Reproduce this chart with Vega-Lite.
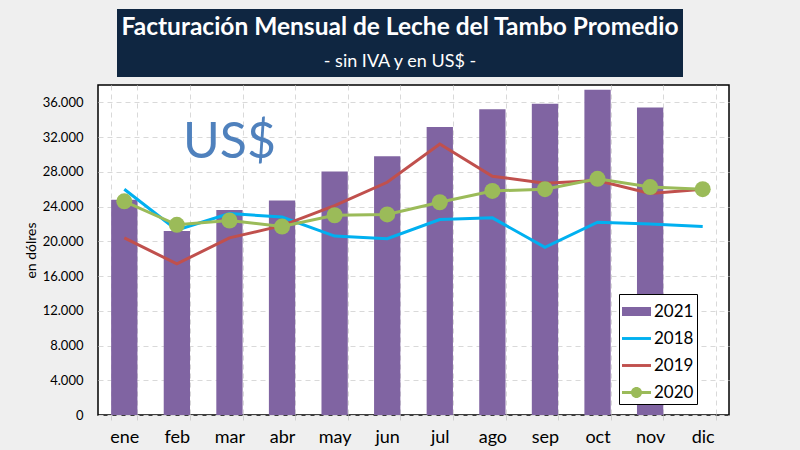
{
  "$schema": "https://vega.github.io/schema/vega-lite/v6.json",
  "background": "#efefef",
  "padding": {"left": 23, "top": 9, "right": 73, "bottom": 4},
  "config": {"font": "Lato", "view": {"stroke": null}},
  "datasets": {
    "titulos": [
      {"linea": "titulo", "texto": "Facturación Mensual de Leche del Tambo Promedio"},
      {"linea": "subtitulo", "texto": "- sin IVA y en US$ -"}
    ],
    "barras": [
      {"mes": "ene", "serie": "2021", "valor": 24800},
      {"mes": "feb", "serie": "2021", "valor": 21200},
      {"mes": "mar", "serie": "2021", "valor": 23600},
      {"mes": "abr", "serie": "2021", "valor": 24700},
      {"mes": "may", "serie": "2021", "valor": 28050},
      {"mes": "jun", "serie": "2021", "valor": 29800},
      {"mes": "jul", "serie": "2021", "valor": 33150},
      {"mes": "ago", "serie": "2021", "valor": 35200},
      {"mes": "sep", "serie": "2021", "valor": 35850},
      {"mes": "oct", "serie": "2021", "valor": 37450},
      {"mes": "nov", "serie": "2021", "valor": 35400}
    ],
    "lineas": [
      {"mes": "ene", "serie": "2018", "valor": 26000},
      {"mes": "feb", "serie": "2018", "valor": 21300},
      {"mes": "mar", "serie": "2018", "valor": 23200},
      {"mes": "abr", "serie": "2018", "valor": 22800},
      {"mes": "may", "serie": "2018", "valor": 20600},
      {"mes": "jun", "serie": "2018", "valor": 20300},
      {"mes": "jul", "serie": "2018", "valor": 22500},
      {"mes": "ago", "serie": "2018", "valor": 22700},
      {"mes": "sep", "serie": "2018", "valor": 19300},
      {"mes": "oct", "serie": "2018", "valor": 22200},
      {"mes": "nov", "serie": "2018", "valor": 22000},
      {"mes": "dic", "serie": "2018", "valor": 21700},
      {"mes": "ene", "serie": "2019", "valor": 20400},
      {"mes": "feb", "serie": "2019", "valor": 17400},
      {"mes": "mar", "serie": "2019", "valor": 20400},
      {"mes": "abr", "serie": "2019", "valor": 21800},
      {"mes": "may", "serie": "2019", "valor": 24100},
      {"mes": "jun", "serie": "2019", "valor": 26800},
      {"mes": "jul", "serie": "2019", "valor": 31200},
      {"mes": "ago", "serie": "2019", "valor": 27500},
      {"mes": "sep", "serie": "2019", "valor": 26700},
      {"mes": "oct", "serie": "2019", "valor": 27000},
      {"mes": "nov", "serie": "2019", "valor": 25500},
      {"mes": "dic", "serie": "2019", "valor": 26000},
      {"mes": "ene", "serie": "2020", "valor": 24600},
      {"mes": "feb", "serie": "2020", "valor": 21900},
      {"mes": "mar", "serie": "2020", "valor": 22400},
      {"mes": "abr", "serie": "2020", "valor": 21700},
      {"mes": "may", "serie": "2020", "valor": 23000},
      {"mes": "jun", "serie": "2020", "valor": 23100},
      {"mes": "jul", "serie": "2020", "valor": 24500},
      {"mes": "ago", "serie": "2020", "valor": 25800},
      {"mes": "sep", "serie": "2020", "valor": 26000},
      {"mes": "oct", "serie": "2020", "valor": 27200},
      {"mes": "nov", "serie": "2020", "valor": 26250},
      {"mes": "dic", "serie": "2020", "valor": 26000}
    ],
    "anot": [
      {"mes": "mar", "valor": 29600, "texto": "US$"}
    ]
  },
  "vconcat": [
    {
      "hconcat": [
        {"width": 19, "height": 68, "data": {"values": []}, "mark": "point"},
        {
          "width": 566,
          "height": 68,
          "view": {"fill": "#0f2641", "stroke": null},
          "data": {"name": "titulos"},
          "encoding": {
            "y": {"field": "linea", "type": "nominal", "scale": {"type": "point", "domain": ["titulo", "subtitulo"], "padding": 0.5}, "axis": null},
            "text": {"field": "texto", "type": "nominal"}
          },
          "layer": [
            {
              "transform": [{"filter": "datum.linea == 'titulo'"}],
              "mark": {"type": "text", "color": "white", "fontSize": 24.5, "fontWeight": "bold", "baseline": "middle", "dy": 2}
            },
            {
              "transform": [{"filter": "datum.linea == 'subtitulo'"}],
              "mark": {"type": "text", "color": "white", "fontSize": 18, "baseline": "middle", "dy": 2}
            }
          ]
        }
      ],
      "spacing": 0,
      "bounds": "flush"
    },
    {
      "width": 631,
      "height": 330,
      "view": {"fill": "white", "stroke": "black", "strokeWidth": 1.5},
      "encoding": {
        "x": {
          "field": "mes", "type": "nominal",
          "scale": {"domain": ["ene","feb","mar","abr","may","jun","jul","ago","sep","oct","nov","dic"], "paddingInner": 0.5, "paddingOuter": 0.25},
          "axis": {"title": null, "labelAngle": 0, "labelFontSize": 18, "labelColor": "black", "tickBand": "extent", "grid": true, "gridColor": "#d9d9d9", "gridDash": [5, 4], "domain": false, "ticks": true, "tickColor": "#d0d0d0", "tickSize": 5, "labelPadding": 8}
        },
        "y": {
          "field": "valor", "type": "quantitative",
          "scale": {"domain": [0, 38000], "nice": false},
          "axis": {"title": "en dólres", "titleFontSize": 14, "titleFontWeight": "normal", "titleColor": "black", "titlePadding": 4, "values": [0, 4000, 8000, 12000, 16000, 20000, 24000, 28000, 32000, 36000], "labelExpr": "replace(format(datum.value, ','), ',', '.')", "labelFontSize": 13, "labelColor": "black", "labelPadding": 15, "ticks": false, "domain": false, "gridColor": "#d9d9d9", "gridDash": [5, 4]}
        }
      },
      "layer": [
        {
          "data": {"name": "barras"},
          "mark": {"type": "bar", "color": "#8064A2"}
        },
        {
          "data": {"name": "lineas"},
          "mark": {"type": "line", "strokeWidth": 3},
          "encoding": {
            "color": {"field": "serie", "type": "nominal", "scale": {"domain": ["2018", "2019", "2020"], "range": ["#00B0F0", "#C0504D", "#9BBB59"]}, "legend": null}
          }
        },
        {
          "data": {"name": "lineas"},
          "transform": [{"filter": "datum.serie == '2020'"}],
          "mark": {"type": "point", "filled": true, "size": 256, "color": "#9BBB59", "opacity": 1}
        },
        {
          "data": {"values": []},
          "mark": {"type": "point", "filled": true, "opacity": 1},
          "encoding": {
            "fill": {
              "field": "serie", "type": "nominal",
              "scale": {"domain": ["2021", "2018", "2019", "2020"], "range": ["#8064A2", "#00B0F0", "#C0504D", "#9BBB59"]},
              "legend": {"title": null, "orient": "none", "legendX": 521, "legendY": 285, "fillColor": "white", "strokeColor": "black", "padding": 3, "symbolSize": 841, "symbolStrokeWidth": 0, "labelFontSize": 17, "labelColor": "black", "labelOffset": 3, "rowPadding": 4}
            },
            "shape": {
              "field": "serie", "type": "nominal",
              "scale": {"domain": ["2021", "2018", "2019", "2020"], "range": [
                "M-1,-0.31H1V0.31H-1Z",
                "M-1,-0.1H1V0.1H-1Z",
                "M-1,-0.1H1V0.1H-1Z",
                "M-1,-0.1H1V0.1H-1Z M-0.38,0A0.38,0.38 0 1,1 0.38,0A0.38,0.38 0 1,1 -0.38,0Z"
              ]}
            }
          }
        },
        {
          "data": {"name": "anot"},
          "mark": {"type": "text", "fontSize": 50, "color": "#4F81BD", "baseline": "alphabetic", "align": "center"},
          "encoding": {"text": {"field": "texto", "type": "nominal"}}
        }
      ]
    }
  ],
  "spacing": 7,
  "bounds": "full"
}
